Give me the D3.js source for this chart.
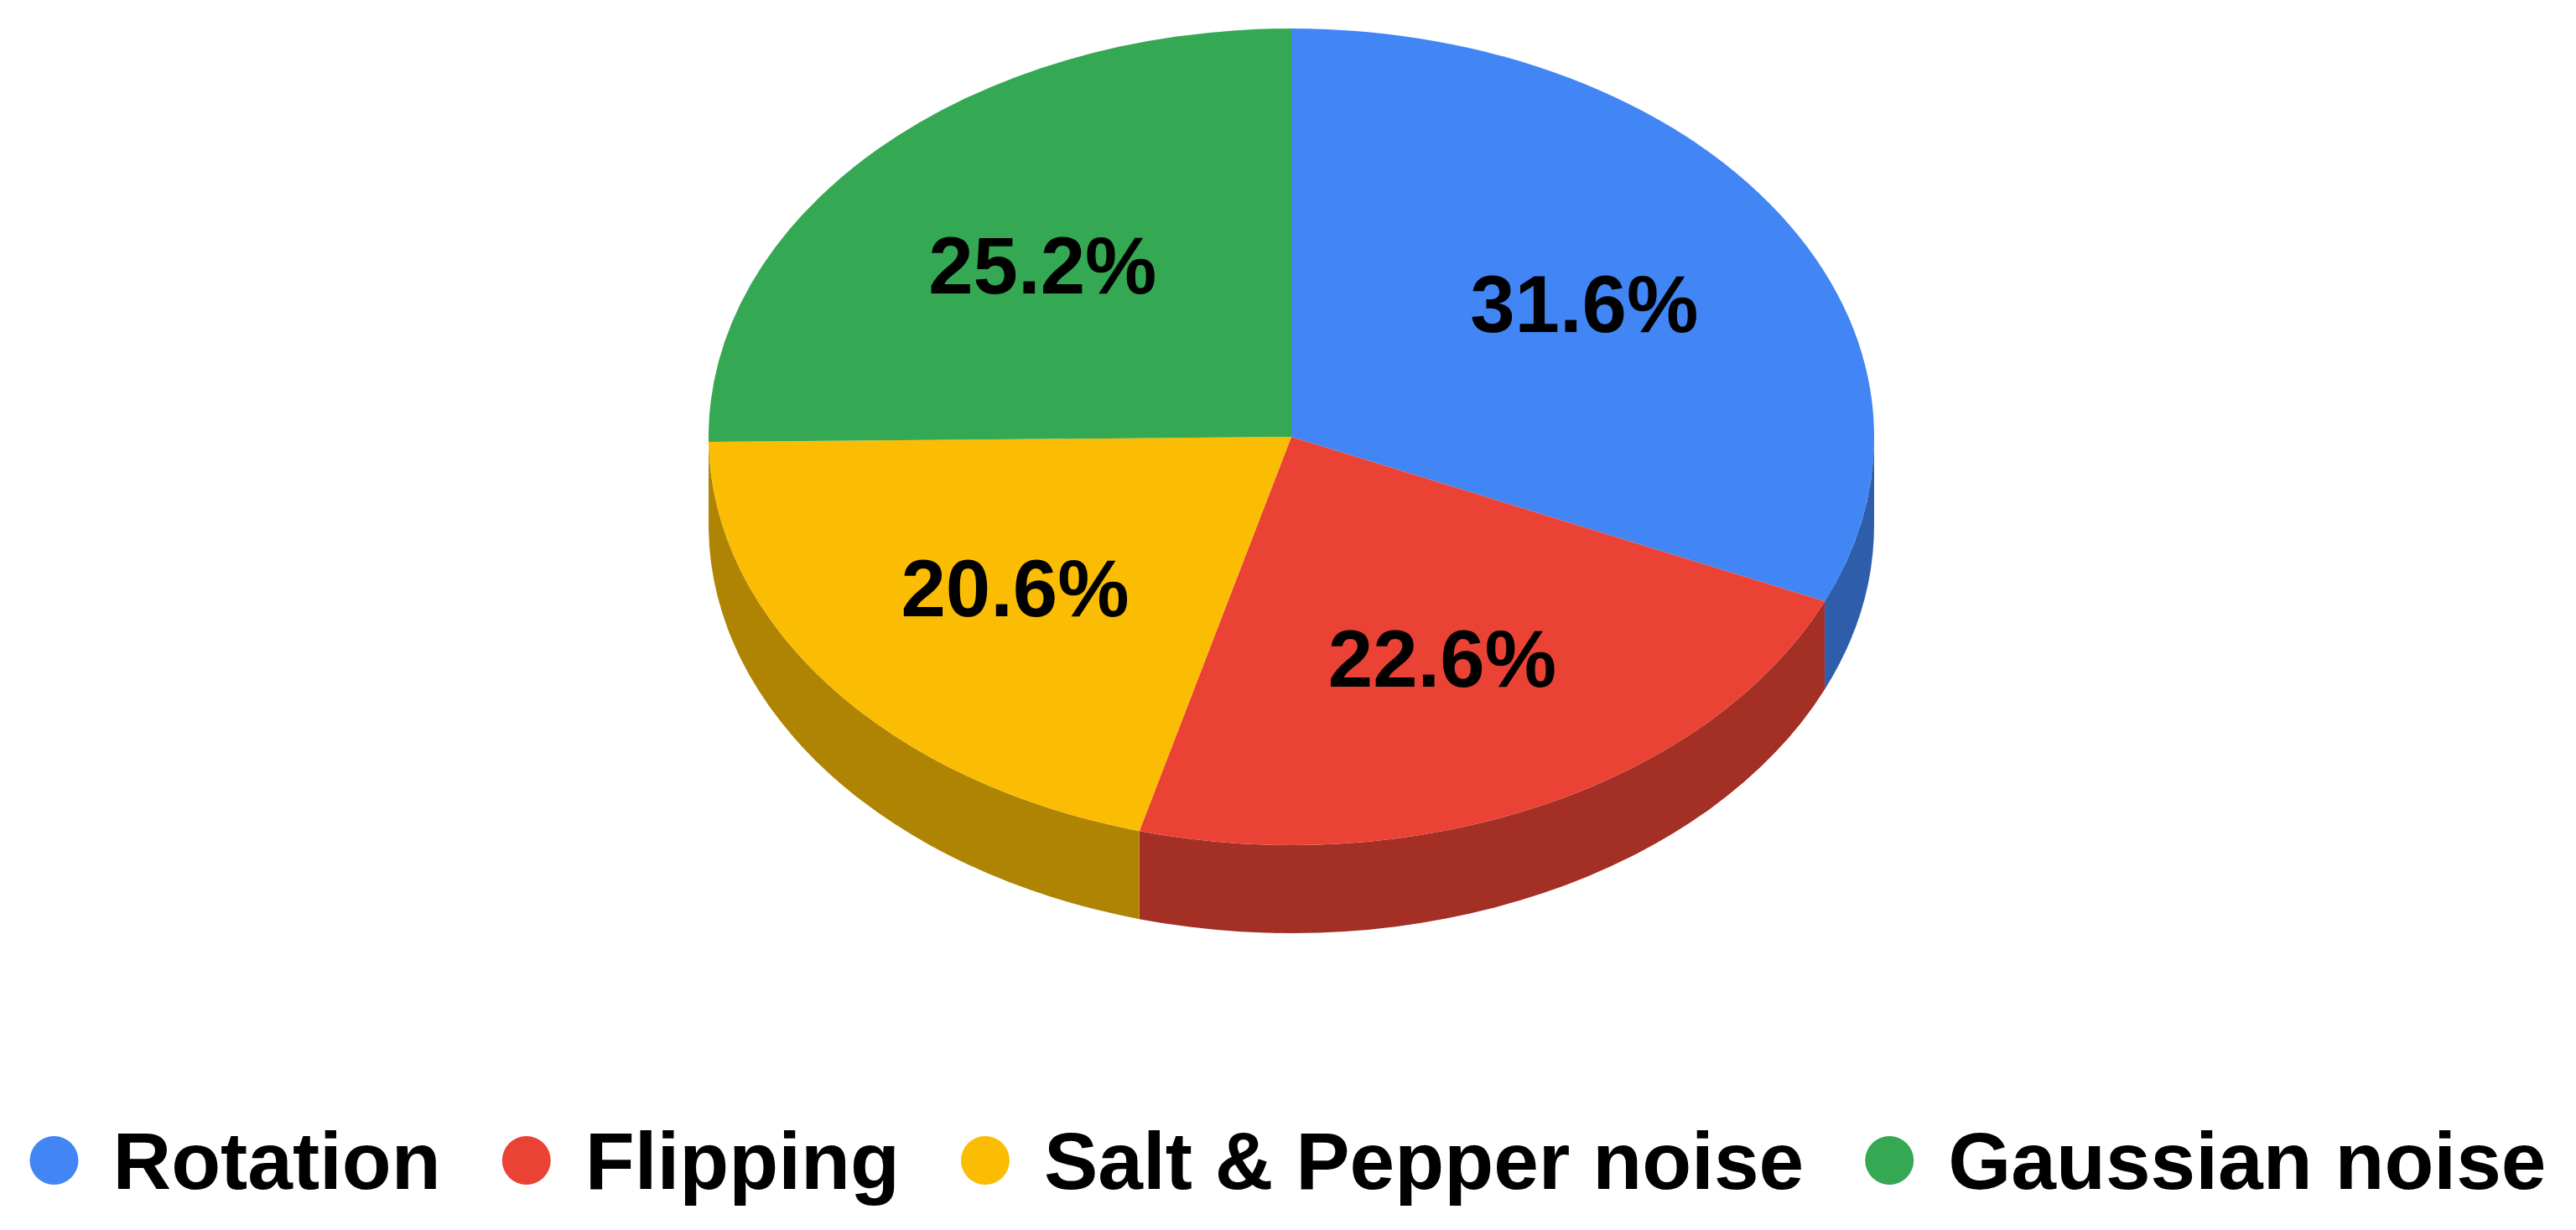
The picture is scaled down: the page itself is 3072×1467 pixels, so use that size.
<!DOCTYPE html>
<html>
<head>
<meta charset="utf-8">
<script src="https://cdn.jsdelivr.net/npm/d3@7"></script>
<style>
  body { margin: 0; background: #fff; }
  svg { display: block; }
  text { font-family: "Liberation Sans", Arial, sans-serif; font-weight: bold; }
</style>
</head>
<body>
<div id="chart"></div>
<script>
// data
const categories = ["Rotation", "Flipping", "Salt & Pepper noise", "Gaussian noise"]
const shares = [31.6, 22.6, 20.6, 25.2]
const colors = ["#4285f4", "#ea4335", "#fbbc04", "#34a853"]
const sideColors = ["#2e5dab", "#a42f25", "#b08403", "#24753a"]

const width = 3072
const height = 1467
const cx = 1540, cy = 521
const rx = 695, ry = 487
const depth = 105
const fontSize = 96
const legendFont = 96.5

const svg = d3.select("#chart").append("svg")
    .attr("width", width)
    .attr("height", height)

const pie = d3.pie().sort(null).value(d => d)
const slices = pie(shares)

// everything drawn in circle space, then squashed vertically
const k = ry / rx
const g = svg.append("g")
    .attr("transform", "translate(" + cx + "," + cy + ") scale(1," + k + ")")

const dz = depth / k

// side walls: only the front half (pi/2 .. 3pi/2 in d3.pie angles)
function sidePath(s) {
    const a0 = Math.max(s.startAngle, Math.PI / 2)
    const a1 = Math.min(s.endAngle, Math.PI * 1.5)
    if (a1 <= a0) return null
    const p = d3.path()
    const t0 = a0 - Math.PI / 2, t1 = a1 - Math.PI / 2
    p.moveTo(rx * Math.cos(t0), rx * Math.sin(t0))
    p.arc(0, 0, rx, t0, t1)
    p.lineTo(rx * Math.cos(t1), rx * Math.sin(t1) + dz)
    p.arc(0, dz, rx, t1, t0, true)
    p.closePath()
    return p.toString()
}

g.selectAll(".side")
    .data(slices.filter(s => sidePath(s)))
    .enter()
    .append("path")
    .attr("class", "side")
    .attr("d", sidePath)
    .attr("fill", d => sideColors[d.index])

const arc = d3.arc().innerRadius(0).outerRadius(rx)
g.selectAll(".top")
    .data(slices)
    .enter()
    .append("path")
    .attr("class", "top")
    .attr("d", arc)
    .attr("fill", d => colors[d.index])

// labels, at 60% of the radius on the slice middle
svg.selectAll(".lbl")
    .data(slices)
    .enter()
    .append("text")
    .attr("class", "lbl")
    .attr("text-anchor", "middle")
    .attr("font-size", fontSize)
    .attr("x", d => cx + 0.6 * rx * Math.sin((d.startAngle + d.endAngle) / 2))
    .attr("y", d => cy - 0.6 * ry * Math.cos((d.startAngle + d.endAngle) / 2) + fontSize * 0.36)
    .text(d => d.data.toFixed(1) + "%")

// legend
const legend = svg.append("g")
const items = legend.selectAll(".item")
    .data(categories)
    .enter()
    .append("g")
    .attr("class", "item")
items.append("circle")
    .attr("r", 29)
    .attr("cy", 1384)
    .attr("fill", (d, i) => colors[i])
items.append("text")
    .attr("x", 70)
    .attr("y", 1418)
    .attr("font-size", legendFont)
    .text(d => d)

const widths = []
items.each(function () {
    widths.push(d3.select(this).select("text").node().getComputedTextLength())
})
const gap = 102
const total = d3.sum(widths) + widths.length * 70 + (widths.length - 1) * gap + 29
let start = width / 2 - total / 2 + 29
items.attr("transform", (d, i) => {
    const t = "translate(" + start + ",0)"
    start += 70 + widths[i] + gap
    return t
})
</script>
</body>
</html>
